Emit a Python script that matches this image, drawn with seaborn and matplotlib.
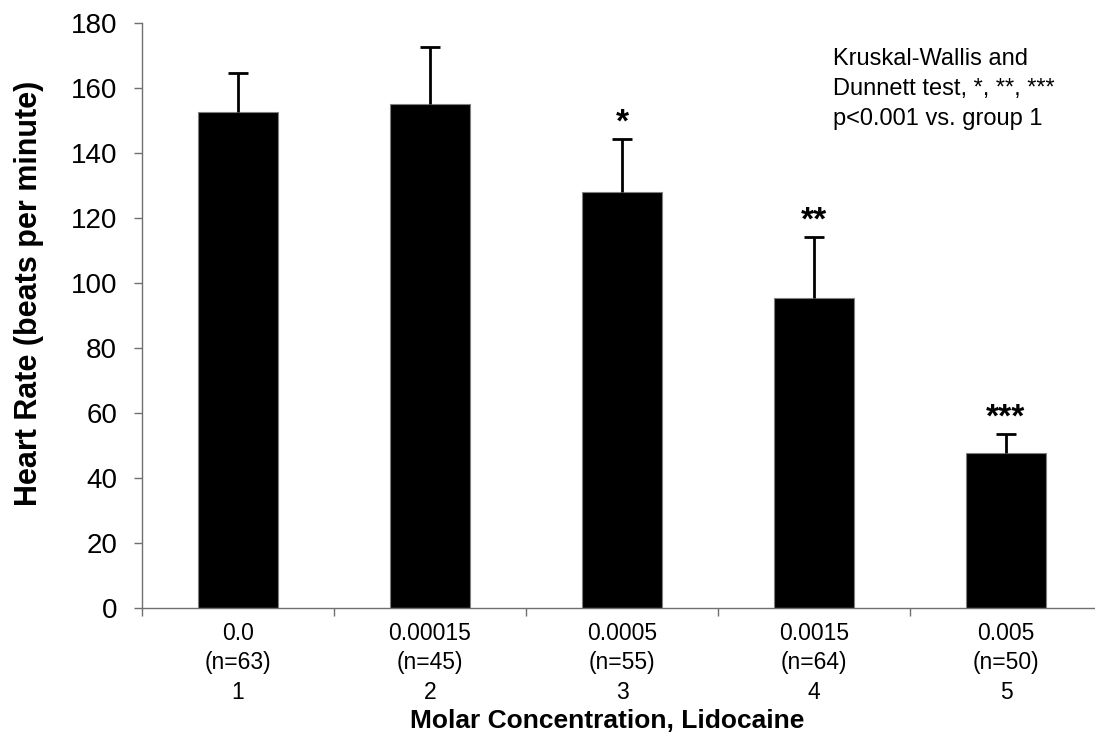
import numpy as np
import pandas as pd
import matplotlib
matplotlib.use("Agg")
import matplotlib.pyplot as plt
import seaborn as sns

# ---- data ----
concentrations = ["0.0", "0.00015", "0.0005", "0.0015", "0.005"]
n_values = [63, 45, 55, 64, 50]
groups = ["1", "2", "3", "4", "5"]
mean_hr = [152.5, 155.1, 127.9, 95.2, 47.5]
sd_hr = [11.9, 17.4, 16.3, 18.8, 6.1]
stars = ["", "", "*", "**", "***"]
yticks = [0, 20, 40, 60, 80, 100, 120, 140, 160, 180]

sns.set_style("ticks")
plt.rcParams["font.family"] = ["Liberation Sans", "DejaVu Sans"]
plt.rcParams["text.color"] = "black"
plt.rcParams["xtick.labelcolor"] = "black"
plt.rcParams["ytick.labelcolor"] = "black"

fig = plt.figure(figsize=(10.95, 7.46), dpi=100)
ax = fig.add_axes([142 / 1095, 1 - 607.7 / 746, (1102 - 142) / 1095, (607.7 - 22.7) / 746])

df = pd.DataFrame({"group": groups, "hr": mean_hr})
sns.barplot(data=df, x="group", y="hr", color="black", width=0.42,
            edgecolor="#808080", linewidth=0.8, errorbar=None, ax=ax,
            saturation=1)

xpos = np.arange(len(groups))
eb = ax.errorbar(xpos, mean_hr, yerr=[np.zeros(len(sd_hr)), sd_hr], fmt="none",
                 ecolor="black", elinewidth=2, capsize=7, capthick=2, zorder=3)
# hide the lower cap (the reference only shows the upper whisker)
caplines = eb.lines[1]
if len(caplines) == 2:
    caplines[0].set_visible(False)

for x, m, s, st in zip(xpos, mean_hr, sd_hr, stars):
    if st:
        ax.text(x, m + s + 2.2, st, ha="center", va="baseline",
                fontsize=24, fontweight="bold", color="black")

ax.set_ylim(0, 180)
ax.set_xlim(-0.5, 4.5)
ax.set_yticks(yticks)
ax.set_yticklabels([str(v) for v in yticks], fontsize=20, color="black")
ax.tick_params(axis="y", direction="out", length=6, width=1, color="#707070", pad=12)

# major ticks on category boundaries, labels under bars as minor ticks
ax.set_xticks(np.arange(-0.5, 4.5, 1.0))
ax.set_xticklabels([])
ax.tick_params(axis="x", which="major", direction="out", length=6, width=1, color="#707070")
ax.set_xticks(xpos, minor=True)
ax.set_xticklabels([f"{c}\n(n={n})\n{g}" for c, n, g in zip(concentrations, n_values, groups)],
                   minor=True, fontsize=16.5, linespacing=1.36, color="black")
ax.tick_params(axis="x", which="minor", length=0, pad=10)

for sp in ["top", "right"]:
    ax.spines[sp].set_visible(False)
for sp in ["left", "bottom"]:
    ax.spines[sp].set_color("#707070")
    ax.spines[sp].set_linewidth(1)

ax.set_xlabel("")
ax.set_ylabel("")
fig.text(29 / 1095, 1 - 293 / 746, "Heart Rate (beats per minute)", rotation=90,
         ha="center", va="center", fontsize=22, fontweight="bold", color="black")
fig.text(607 / 1095, 1 - 721 / 746, "Molar Concentration, Lidocaine",
         ha="center", va="center", fontsize=19, fontweight="bold", color="black")

fig.text(833 / 1095, 1 - 89 / 746,
         "Kruskal-Wallis and\nDunnett test, *, **, ***\np<0.001 vs. group 1",
         ha="left", va="center", fontsize=17, linespacing=1.45, color="black")

fig.savefig("out.png", dpi=100)
